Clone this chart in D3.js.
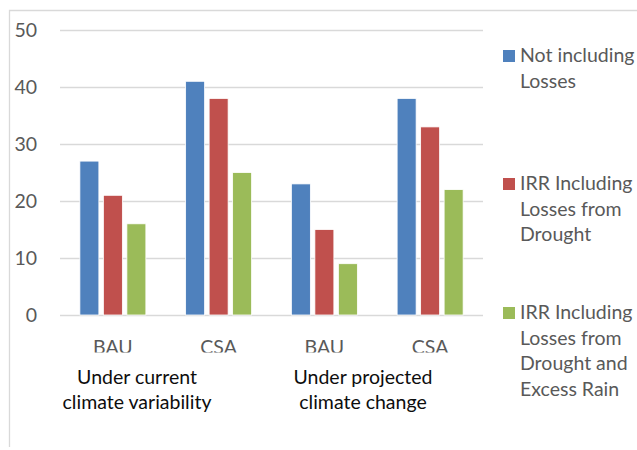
<!DOCTYPE html>
<html><head><meta charset="utf-8">
<script src="https://cdn.jsdelivr.net/npm/d3@7"></script>
<style>body{margin:0;background:#fff}svg{display:block}text{font-family:Lato,"Noto Sans",sans-serif}</style>
</head><body>
<svg id="c" width="637" height="450"></svg>
<script>
const categories = ["BAU","CSA","BAU","CSA"];
const groupLabels = [["Under current","climate variability"],["Under projected","climate change"]];
const seriesNames = [["Not including","Losses"],["IRR Including","Losses from","Drought"],["IRR Including","Losses from","Drought and","Excess Rain"]];
const notIncluding = [27,41,23,38];
const droughtLoss = [21,38,15,33];
const droughtRainLoss = [16,25,9,22];
const yTicks = [0,10,20,30,40,50];
const colors = ["#4F81BD","#C0504D","#9BBB59"];

const series = [notIncluding, droughtLoss, droughtRainLoss];
const svg = d3.select("#c");
const W=637,H=450;
const FS=19.5, FF="Lato,'Noto Sans',sans-serif";
svg.append("path").attr("d","M9.5,447 L9.5,10.5 L637,10.5").attr("fill","none").attr("stroke","#d9d9d9").attr("stroke-width",1.3);

const plot={l:60,r:483,t:30,b:315};
const x = d3.scaleBand().domain(d3.range(categories.length)).range([plot.l,plot.r]);
const y = d3.scaleLinear().domain([0,50]).range([plot.b,plot.t]);

svg.append("g").selectAll("line").data(yTicks).join("line")
 .attr("x1",plot.l).attr("x2",plot.r).attr("y1",d=>Math.round(y(d))+0.5).attr("y2",d=>Math.round(y(d))+0.5)
 .attr("stroke","#d9d9d9").attr("stroke-width",1.5);
const yAxis = d3.axisLeft(y).tickValues(yTicks).tickSize(0).tickPadding(0);
const ya = svg.append("g").attr("transform","translate(37,0)").call(yAxis);
ya.select(".domain").remove();
ya.selectAll("text").attr("font-size",FS).attr("fill","#595959").attr("dy","0.35em").style("font-family",FF);

const bw = 19, step = 23.5;
series.forEach((vals,si)=>{
  svg.append("g").selectAll("rect").data(vals).join("rect")
   .attr("x",(d,i)=>x(i)+x.bandwidth()/2+(si-1)*step-bw/2)
   .attr("width",bw)
   .attr("y",d=>y(d)).attr("height",d=>y(0)-y(d))
   .attr("fill",colors[si]).attr("stroke","#fff").attr("stroke-width",0.8);
});

svg.append("clipPath").attr("id","clipcat").append("rect").attr("x",0).attr("y",-40).attr("width",W).attr("height",38.5);
const xAxis = d3.axisBottom(x).tickFormat(i=>categories[i]).tickSize(0).tickPadding(0);
const xa = svg.append("g").attr("transform","translate(0,354)").attr("clip-path","url(#clipcat)");
xa.call(xAxis);
xa.select(".domain").remove();
xa.selectAll("text").attr("font-size",FS).attr("fill","#595959").attr("dy","0").attr("y",0).style("font-family",FF);

const groupCenters=[137,363];
groupLabels.forEach((lines,gi)=>{
  const t=svg.append("text").attr("text-anchor","middle").attr("font-size",FS).attr("fill","#0d0d0d");
  lines.forEach((ln,li)=>t.append("tspan").attr("x",groupCenters[gi]).attr("y",384+li*25).text(ln));
});

const legY=[62,190,319];
seriesNames.forEach((lines,si)=>{
  const g=svg.append("g");
  g.append("rect").attr("x",503).attr("y",legY[si]-12).attr("width",12).attr("height",12).attr("fill",colors[si]);
  const t=g.append("text").attr("font-size",FS).attr("fill","#595959");
  lines.forEach((ln,li)=>t.append("tspan").attr("x",520).attr("y",legY[si]+li*25.5).text(ln));
});
</script>
</body></html>
